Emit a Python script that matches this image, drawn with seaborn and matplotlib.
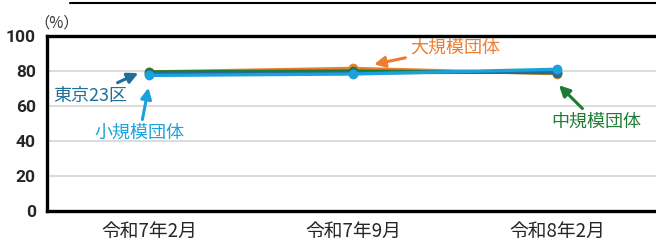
import matplotlib.pyplot as plt
import matplotlib.lines as mlines
import seaborn as sns
import pandas as pd

sns.set_theme(style="white")
plt.rcParams['font.family'] = ['Noto Sans CJK JP', 'DejaVu Sans']

# data
periods = ["令和7年2月", "令和7年9月", "令和8年2月"]
large = [79.5, 81.5, 78.5]      # 大規模団体
middle = [79.5, 80.0, 79.0]     # 中規模団体
tokyo = [78.5, 79.0, 79.5]      # 東京23区
small = [77.5, 78.3, 81.0]      # 小規模団体

groups = ["大規模団体", "中規模団体", "東京23区", "小規模団体"]
colors = {"大規模団体": "#ED7D31", "中規模団体": "#1E7B34",
          "東京23区": "#1F6F9A", "小規模団体": "#1BA1DB"}

rows = []
for g, vals in zip(groups, [large, middle, tokyo, small]):
    for i, (p, v) in enumerate(zip(periods, vals)):
        rows.append({"group": g, "pos": i, "period": p, "value": v})
df = pd.DataFrame(rows)

fig = plt.figure(figsize=(6.56, 2.4), dpi=100)
ax = fig.add_axes([0.0716, 0.1208, 0.933, 0.729])

sns.lineplot(data=df, x="pos", y="value", hue="group", palette=colors,
             hue_order=groups, marker="o", markersize=7, linewidth=2.4,
             markeredgewidth=0, legend=False, ax=ax)

ax.set_xlim(-0.5, 2.5)
ax.set_ylim(0, 100)
ax.set_yticks([0, 20, 40, 60, 80, 100])
ax.set_xticks(range(len(periods)))
ax.set_xticklabels(periods, fontsize=13.5)
ax.set_xlabel("")
ax.set_ylabel("")
ax.grid(axis="y", color="#d9d9d9", linewidth=1.3)
ax.set_axisbelow(True)
for s in ax.spines.values():
    s.set_color("black")
    s.set_linewidth(2.4)
ax.tick_params(axis="y", length=0, pad=8)
ax.tick_params(axis="x", length=0, pad=7)
for lab in ax.get_yticklabels():
    lab.set_family(["Liberation Sans Narrow", "Roboto", "DejaVu Sans"])
    lab.set_fontweight("bold")
    lab.set_fontsize(12.5)

fig.text(0.052, 0.905, "（%）", fontsize=11, color="#333333", va="center")

# annotations
def note(text, xy, xytext, color):
    ax.annotate(text, xy=xy, xytext=xytext, color=color, fontsize=13,
                ha="center", va="center",
                arrowprops=dict(arrowstyle="-|>", color=color, lw=2.2,
                                mutation_scale=16, shrinkA=1, shrinkB=2))

note("東京23区", (-0.04, 79.5), (-0.29, 66), colors["東京23区"])
note("小規模団体", (0.0, 72), (-0.045, 44.5), colors["小規模団体"])
note("大規模団体", (1.09, 83.5), (1.5, 93.5), colors["大規模団体"])
note("中規模団体", (2.0, 73), (2.19, 51), colors["中規模団体"])

# cut-off title underline at the top
fig.add_artist(mlines.Line2D([0.107, 1.0], [0.988, 0.988], color="black", linewidth=1.5))

fig.savefig("out.png", dpi=100)
